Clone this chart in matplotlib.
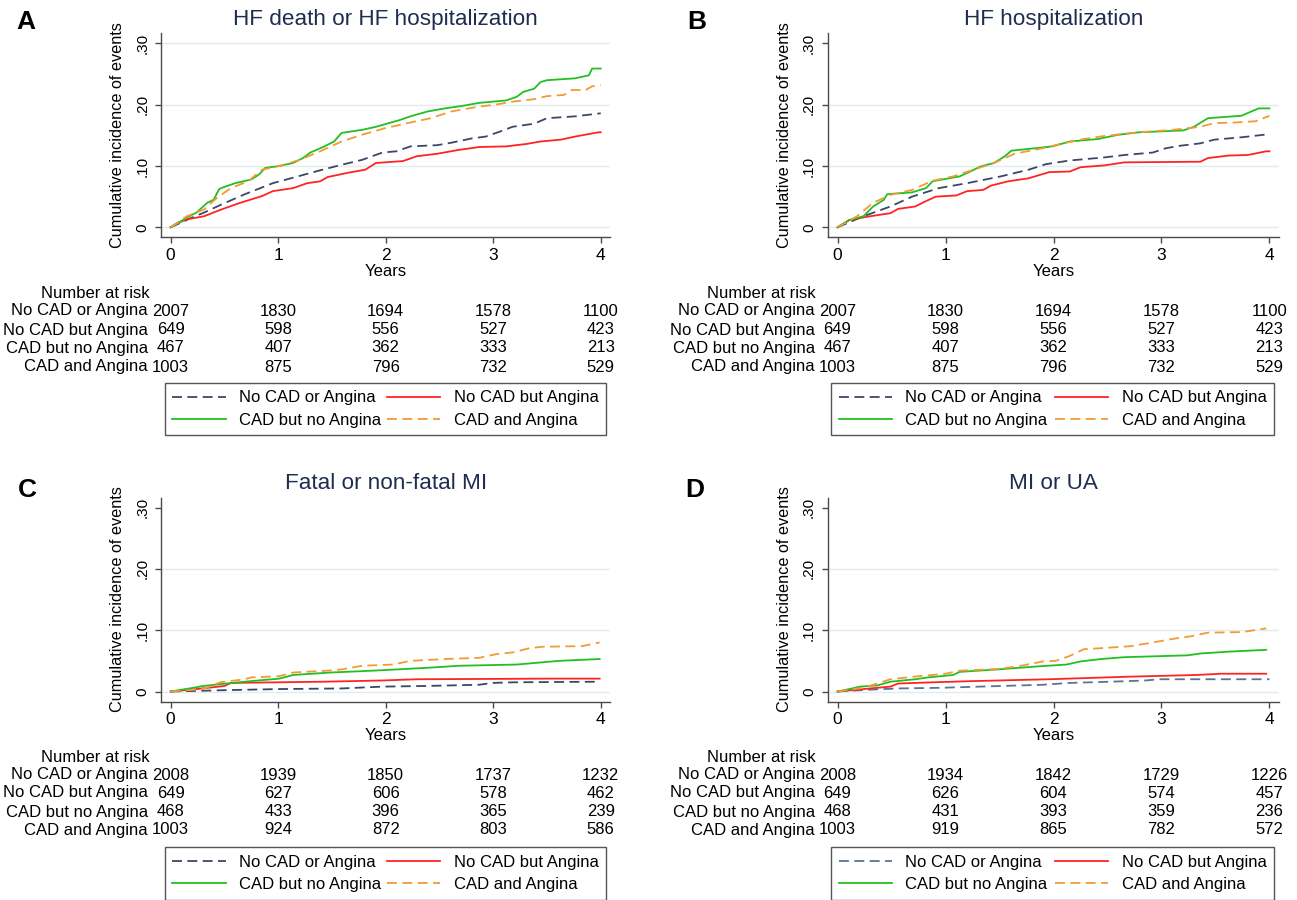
import numpy as np
import matplotlib
matplotlib.use('Agg')
import matplotlib.pyplot as plt
from matplotlib import transforms
from matplotlib.lines import Line2D

plt.rcParams['font.family'] = ['Liberation Sans', 'DejaVu Sans']

# --- data ---
groups = ['No CAD or Angina', 'No CAD but Angina', 'CAD but no Angina', 'CAD and Angina']
titles = ['HF death or HF hospitalization', 'HF hospitalization',
          'Fatal or non-fatal MI', 'MI or UA']
years = [0, 1, 2, 3, 4]

# A: HF death or HF hospitalization
a_navy_t = [0, 0.1, 0.2, 0.31, 0.47, 0.69, 0.95, 1.14, 1.39, 1.59, 1.78, 1.97, 2.1, 2.23, 2.48, 2.61, 2.8, 2.93, 3.06, 3.18, 3.38, 3.5, 3.76, 4.0]
a_navy_v = [0, .008, .016, .024, .037, .054, .072, .081, .093, .102, .11, .122, .124, .132, .134, .138, .145, .148, .156, .164, .169, .178, .181, .186]
a_red_t = [0, 0.05, 0.15, 0.31, 0.47, 0.63, 0.85, 0.95, 1.14, 1.27, 1.39, 1.46, 1.65, 1.81, 1.91, 2.16, 2.29, 2.48, 2.67, 2.87, 3.12, 3.31, 3.44, 3.63, 3.76, 3.98, 4.0]
a_red_v = [0, .006, .013, .018, .029, .039, .051, .059, .064, .072, .075, .082, .089, .094, .105, .108, .116, .12, .126, .131, .132, .136, .14, .143, .148, .155, .155]
a_green_t = [0, 0.08, 0.15, 0.24, 0.34, 0.40, 0.45, 0.47, 0.6, 0.75, 0.82, 0.88, 1.01, 1.14, 1.23, 1.3, 1.43, 1.52, 1.59, 1.78, 1.91, 2.03, 2.13, 2.23, 2.39, 2.55, 2.71, 2.87, 3.12, 3.22, 3.28, 3.38, 3.44, 3.5, 3.76, 3.89, 3.92, 4.0]
a_green_v = [0, .008, .016, .024, .04, .045, .062, .064, .072, .078, .086, .097, .10, .105, .113, .122, .132, .14, .154, .159, .164, .17, .175, .181, .189, .194, .198, .203, .207, .213, .221, .226, .237, .24, .243, .248, .259, .259]
a_orange_t = [0, 0.15, 0.31, 0.43, 0.56, 0.72, 0.85, 1.01, 1.2, 1.39, 1.59, 1.78, 2.0, 2.23, 2.42, 2.61, 2.87, 3.02, 3.18, 3.38, 3.5, 3.66, 3.73, 3.86, 3.92, 4.0]
a_orange_v = [0, .018, .029, .048, .064, .075, .094, .10, .11, .124, .14, .151, .162, .171, .178, .189, .197, .2, .205, .209, .214, .216, .224, .224, .23, .232]

# B: HF hospitalization
b_navy_t = [0, 0.24, 0.49, 0.69, 0.94, 1.2, 1.51, 1.77, 1.93, 2.15, 2.47, 2.66, 2.92, 3.04, 3.17, 3.36, 3.49, 3.75, 4.0]
b_navy_v = [0, .018, .034, .05, .064, .072, .083, .094, .103, .109, .114, .118, .122, .129, .133, .137, .143, .147, .152]
b_red_t = [0, 0.11, 0.3, 0.49, 0.56, 0.72, 0.81, 0.91, 1.1, 1.2, 1.35, 1.42, 1.58, 1.77, 1.96, 2.15, 2.25, 2.47, 2.66, 3.36, 3.43, 3.62, 3.8, 3.97, 4.0]
b_red_v = [0, .012, .018, .023, .03, .034, .042, .05, .052, .059, .061, .068, .075, .08, .09, .091, .098, .101, .106, .107, .113, .117, .118, .124, .124]
b_green_t = [0, 0.11, 0.24, 0.33, 0.43, 0.46, 0.69, 0.82, 0.88, 0.97, 1.13, 1.23, 1.32, 1.45, 1.55, 1.61, 1.83, 1.99, 2.15, 2.41, 2.6, 2.79, 3.2, 3.3, 3.43, 3.74, 3.9, 4.0]
b_green_v = [0, .012, .018, .034, .045, .054, .057, .064, .075, .078, .083, .091, .099, .105, .116, .125, .129, .132, .14, .144, .151, .155, .158, .164, .178, .182, .194, .194]
b_orange_t = [0, 0.18, 0.33, 0.49, 0.69, 0.88, 1.07, 1.26, 1.45, 1.64, 1.9, 2.09, 2.28, 2.47, 2.79, 3.11, 3.36, 3.49, 3.68, 3.87, 4.0]
b_orange_v = [0, .018, .04, .053, .061, .076, .083, .094, .105, .12, .129, .137, .144, .149, .155, .159, .164, .17, .171, .173, .182]

# C: Fatal or non-fatal MI
c_navy_t = [0, 0.46, 1.01, 1.59, 1.97, 2.36, 2.87, 2.99, 3.19, 3.99]
c_navy_v = [0, .002, .004, .005, .008, .009, .011, .014, .015, .016]
c_red_t = [0, 0.24, 0.5, 0.56, 1.43, 1.97, 2.29, 3.54, 3.99]
c_red_v = [0, .004, .009, .014, .016, .018, .02, .021, .021]
c_green_t = [0, 0.14, 0.21, 0.3, 0.46, 0.75, 1.01, 1.14, 1.49, 1.88, 2.1, 2.42, 2.68, 3.22, 3.61, 3.99]
c_green_v = [0, .004, .006, .009, .012, .017, .021, .027, .031, .034, .036, .039, .042, .044, .05, .053]
c_orange_t = [0, 0.15, 0.3, 0.46, 0.69, 0.75, 1.01, 1.14, 1.46, 1.59, 1.78, 2.07, 2.23, 2.55, 2.87, 3.03, 3.19, 3.32, 3.45, 3.83, 3.99]
c_orange_v = [0, .002, .004, .015, .02, .023, .025, .031, .034, .036, .042, .044, .05, .053, .055, .061, .064, .07, .073, .074, .08]

# D: MI or UA
d_navy_t = [0, 0.3, 0.56, 0.94, 1.51, 1.9, 2.15, 2.53, 2.85, 2.98, 4.0]
d_navy_v = [0, .003, .005, .006, .009, .011, .014, .016, .018, .02, .02]
d_red_t = [0, 0.24, 0.49, 0.56, 0.88, 1.26, 1.96, 2.31, 2.66, 3.33, 3.55, 3.97]
d_red_v = [0, .004, .008, .013, .015, .017, .02, .022, .024, .027, .029, .029]
d_green_t = [0, 0.11, 0.21, 0.37, 0.49, 0.72, 0.84, 1.07, 1.13, 1.48, 1.86, 2.12, 2.25, 2.44, 2.66, 3.24, 3.36, 3.62, 3.97]
d_green_v = [0, .004, .008, .01, .016, .02, .023, .027, .032, .036, .041, .044, .049, .053, .056, .059, .062, .065, .068]
d_orange_t = [0, 0.24, 0.49, 0.75, 1.0, 1.13, 1.51, 1.7, 1.9, 2.02, 2.15, 2.28, 2.47, 2.72, 2.92, 3.11, 3.27, 3.43, 3.75, 3.97]
d_orange_v = [0, .006, .02, .025, .029, .034, .037, .042, .049, .05, .058, .069, .071, .074, .08, .086, .09, .096, .097, .103]

# Number at risk (same for A and B)
hf_risk_navy = [2007, 1830, 1694, 1578, 1100]
hf_risk_red = [649, 598, 556, 527, 423]
hf_risk_green = [467, 407, 362, 333, 213]
hf_risk_orange = [1003, 875, 796, 732, 529]
mi_risk_navy = [2008, 1939, 1850, 1737, 1232]
mi_risk_red = [649, 627, 606, 578, 462]
mi_risk_green = [468, 433, 396, 365, 239]
mi_risk_orange = [1003, 924, 872, 803, 586]
ua_risk_navy = [2008, 1934, 1842, 1729, 1226]
ua_risk_red = [649, 626, 604, 574, 457]
ua_risk_green = [468, 431, 393, 359, 236]
ua_risk_orange = [1003, 919, 865, 782, 572]

# --- styles ---
W, H = 1297, 900
navy = '#3a4868'
navy_d = '#5a7494'
red = '#ff2424'
green = '#22bf22'
orange = '#f39a35'
title_col = '#1f2d4f'
grid_col = '#e3ebef'
spine_col = '#4a4a4a'
dash = (0, (5.5, 3))

fig = plt.figure(figsize=(W / 100, H / 100), dpi=100)


def px_box(left, top, width, height):
    return [left / W, 1 - (top + height) / H, width / W, height / H]


def fy(y):
    return 1 - y / H


panels = [
    dict(letter='A', box=(161, 33.3, 449.4, 204), title=titles[0], nv=navy,
         curves=[(a_navy_t, a_navy_v), (a_red_t, a_red_v), (a_green_t, a_green_v), (a_orange_t, a_orange_v)],
         risk=[hf_risk_navy, hf_risk_red, hf_risk_green, hf_risk_orange],
         grid=[0, .1, .2, .3], letter_xy=(26, 22), table_y=[293, 311, 330, 348, 367],
         leg=(165, 383, 441)),
    dict(letter='B', box=(827.8, 33.3, 451.4, 204), title=titles[1], nv=navy,
         curves=[(b_navy_t, b_navy_v), (b_red_t, b_red_v), (b_green_t, b_green_v), (b_orange_t, b_orange_v)],
         risk=[hf_risk_navy, hf_risk_red, hf_risk_green, hf_risk_orange],
         grid=[0, .1, .2], letter_xy=(697, 22), table_y=[293, 311, 330, 348, 367],
         leg=(831, 383, 443)),
    dict(letter='C', box=(161, 497.5, 449.4, 204), title=titles[2], nv=navy,
         curves=[(c_navy_t, c_navy_v), (c_red_t, c_red_v), (c_green_t, c_green_v), (c_orange_t, c_orange_v)],
         risk=[mi_risk_navy, mi_risk_red, mi_risk_green, mi_risk_orange],
         grid=[0, .1, .2], letter_xy=(27, 490), table_y=[757, 775, 793, 812, 830],
         leg=(165, 847, 441)),
    dict(letter='D', box=(827.8, 497.5, 451.4, 204), title=titles[3], nv=navy_d,
         curves=[(d_navy_t, d_navy_v), (d_red_t, d_red_v), (d_green_t, d_green_v), (d_orange_t, d_orange_v)],
         risk=[ua_risk_navy, ua_risk_red, ua_risk_green, ua_risk_orange],
         grid=[0, .1, .2], letter_xy=(695, 490), table_y=[757, 775, 793, 812, 830],
         leg=(831, 847, 443)),
]

for p in panels:
    ax = fig.add_axes(px_box(*p['box']))
    colors = [p['nv'], red, green, orange]
    styles = [dash, '-', '-', dash]

    for g in p['grid']:
        ax.axhline(g, color=grid_col, lw=1.0, zorder=0)
    for (t, v), c, ls in zip(p['curves'], colors, styles):
        ax.plot(t, v, color=c, lw=1.3, linestyle=ls)

    ax.set_xlim(-0.09, 4.09)
    ax.set_ylim(-0.0163, 0.3165)
    ax.set_xticks(years)
    ax.set_yticks([0, .1, .2, .3])
    ax.set_yticklabels(['0', '.10', '.20', '.30'])
    for s in ['top', 'right']:
        ax.spines[s].set_visible(False)
    for s in ['left', 'bottom']:
        ax.spines[s].set_color(spine_col)
        ax.spines[s].set_linewidth(1.0)
    ax.tick_params(axis='both', color=spine_col, length=4.5, width=1.0)
    ax.tick_params(axis='x', labelsize=12.5, pad=3)
    ax.tick_params(axis='y', labelsize=11, labelrotation=90, pad=4)
    for lab in ax.get_yticklabels():
        lab.set_va('center')
    ax.set_xlabel('Years', fontsize=12, labelpad=1)
    ax.set_ylabel('Cumulative incidence of events', fontsize=11.7, labelpad=7)
    ax.set_title(p['title'], fontsize=16.2, color=title_col, pad=6)

    lx, ly = p['letter_xy']
    fig.text(lx / W, fy(ly), p['letter'], fontsize=19, fontweight='bold',
             ha='center', va='center')

    # number at risk table
    tr = transforms.blended_transform_factory(ax.transData, fig.transFigure)
    ty = p['table_y']
    ax.text(-0.2, fy(ty[0]), 'Number at risk', transform=tr, ha='right',
            va='center', fontsize=12, clip_on=False)
    for row, (name, counts) in enumerate(zip(groups, p['risk'])):
        y = fy(ty[row + 1])
        ax.text(-0.21, y, name, transform=tr, ha='right', va='center',
                fontsize=12, clip_on=False)
        for yr, n in zip(years, counts):
            ax.text(yr, y, str(n), transform=tr, ha='center', va='center',
                    fontsize=12, clip_on=False)

    # legend below the table
    handles = [Line2D([], [], color=p['nv'], lw=1.3, linestyle=dash),
               Line2D([], [], color=green, lw=1.3),
               Line2D([], [], color=red, lw=1.3),
               Line2D([], [], color=orange, lw=1.3, linestyle=dash)]
    labels = [groups[0], groups[2], groups[1], groups[3]]
    x0, top, wd = p['leg']
    leg = ax.legend(handles, labels, ncol=2, loc='upper left', mode='expand',
                    bbox_to_anchor=(x0 / W, fy(top) - 0.06, wd / W, 0.06),
                    bbox_transform=fig.transFigure, fontsize=12,
                    handlelength=3.2, handletextpad=0.8, borderpad=0.45,
                    labelspacing=0.45, borderaxespad=0, fancybox=False,
                    edgecolor='#555555', framealpha=1)
    leg.get_frame().set_linewidth(1.0)

fig.savefig('out.png', dpi=100)
